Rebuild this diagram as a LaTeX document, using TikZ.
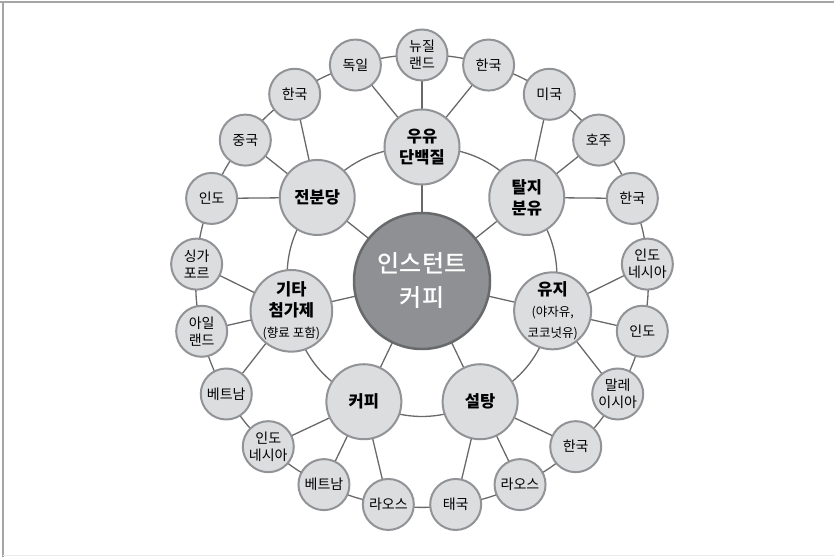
\documentclass[tikz,border=0pt]{standalone}
\usepackage{fontspec}
\setmainfont{Noto Sans CJK KR}
\newfontfamily\corefont{Noto Sans CJK KR Medium}
\usepackage{tikz}
\usetikzlibrary{backgrounds}
\definecolor{ballfill}{RGB}{220,221,223}
\definecolor{balledge}{RGB}{146,147,150}
\definecolor{corefill}{RGB}{142,144,147}
\definecolor{coreedge}{RGB}{104,105,107}
\definecolor{linkgray}{RGB}{105,105,105}
\definecolor{framegray}{RGB}{165,165,165}
\newcommand{\notefont}{\fontsize{12.5}{16}\selectfont\mdseries}

\tikzset{
    link/.style={draw=linkgray,line width=1.3pt},
    core/.style={circle,draw=coreedge,line width=2.5pt,fill=corefill,minimum size=136pt,
        inner sep=0pt,align=center,text=white,font=\corefont\fontsize{24}{34}\selectfont},
    group/.style={circle,draw=balledge,line width=2pt,fill=ballfill,minimum size=75pt,
        inner sep=0pt,align=center,font=\fontsize{16.5}{21}\selectfont\bfseries},
    origin/.style={circle,draw=balledge,line width=2pt,fill=ballfill,minimum size=51pt,
        inner sep=0pt,align=center,font=\fontsize{14}{17}\selectfont}
}

\begin{document}
\begin{tikzpicture}[x=1pt,y=1pt]
    \useasboundingbox (-422,281) rectangle (412,-276);
    % frame
    \draw[framegray,line width=1.5pt] (-422,279) -- (412,279);
    \draw[framegray,line width=1.5pt] (-419,279) -- (-419,-276);
    \draw[black!8,line width=1pt] (-419,-274) -- (412,-274);

    % center
    \node[core] (core) at (0,0) {인스턴트\\커피};

    % ingredient groups
    \node[group] (m0) at (90:134) {우유\\단백질};
    \node[group] (m1) at (141.43:134) {전분당};
    \node[group] (m2) at (192.86:134) {기타\\첨가제\\{\notefont (향료 포함)}};
    \node[group] (m3) at (244.29:134) {커피};
    \node[group] (m4) at (295.71:134) {설탕};
    \node[group] (m5) at (347.14:134) {유지\\{\notefont (야자유,}\\{\notefont 코코넛유)}};
    \node[group] (m6) at (398.57:134) {탈지\\분유};

    % countries of origin
    \foreach \place [count=\k from 0] in {{뉴질\\랜드},독일,한국,중국,인도,{싱가\\포르},
        {아일\\랜드},베트남,{인도\\네시아},베트남,라오스,태국,라오스,한국,
        {말레\\이시아},인도,{인도\\네시아},한국,호주,미국,한국}
        \node[origin] (o\k) at ({90+\k*360/21}:226) {\place};

    % links
    \begin{pgfonlayer}{background}
    \foreach \m in {0,...,6} {
        \pgfmathtruncatemacro{\n}{mod(\m+1,7)}
        \draw[link] (core.center) -- (m\m.center);
        \draw[link] (m\m.center) to[bend right=25.7] (m\n.center);
        \foreach \d in {-1,0,1} {
            \pgfmathtruncatemacro{\k}{mod(3*\m+\d+21,21)}
            \draw[link] (m\m.center) -- (o\k.center);
        }
    }
    \foreach \k in {0,...,20} {
        \pgfmathtruncatemacro{\n}{mod(\k+1,21)}
        \draw[link] (o\k.center) to[bend right=8.57] (o\n.center);
    }
    \end{pgfonlayer}
\end{tikzpicture}
\end{document}
